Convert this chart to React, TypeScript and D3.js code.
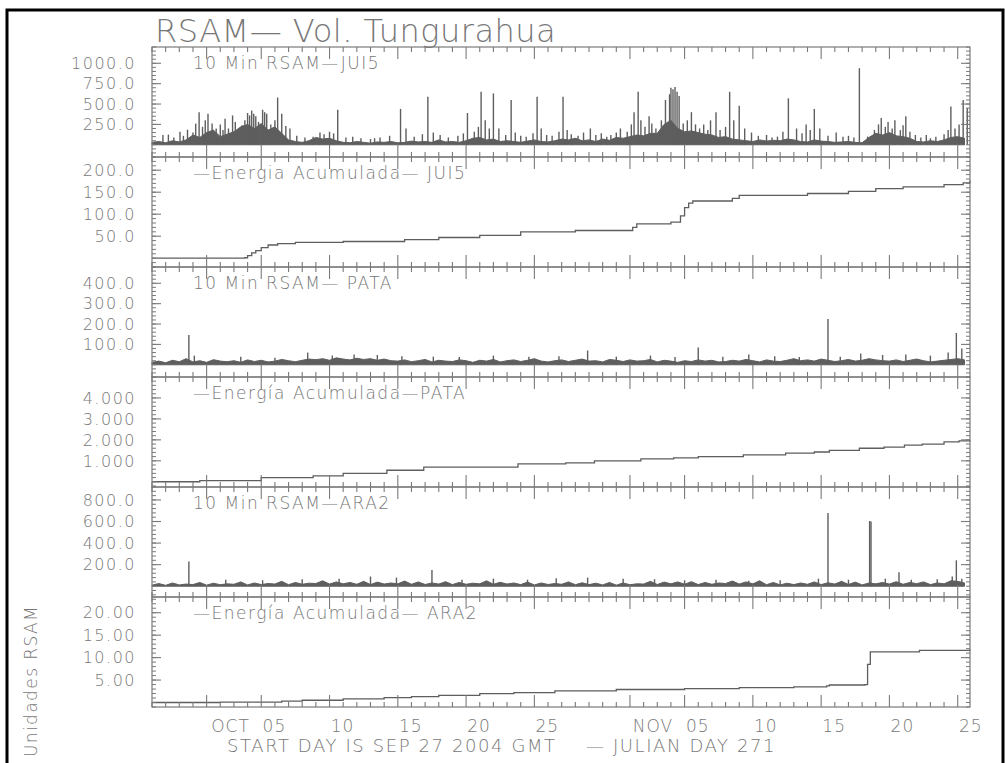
import React from 'react';
import * as d3 from 'd3';

// ---- data (day offsets from SEP 27 2004 00:00 GMT) ----
const startDay = Date.UTC(2004, 8, 27);
const spanDays = 59.9;

// 10 min RSAM JUI5, background level every half day
const jui5Base = [
  30, 40, 25, 50, 35, 60,
  120, 90, 150, 180, 100, 130, 160, 220, 250, 200, 260, 180, 220, 140,
  60, 40, 30, 50,
  90, 70, 80, 50,
  30, 25, 40, 30, 20, 35, 30, 40, 25, 30, 45, 35,
  40, 30, 60, 35, 40, 30, 50, 80, 90, 60, 70, 40,
  50, 40, 30, 45, 60, 40, 35, 50, 70, 60, 80, 50,
  60, 40, 70, 55, 90, 80, 100, 120, 110, 140,
  140, 250, 300, 200, 160, 170, 150, 130,
  120, 90, 100, 70, 60, 50, 40, 60, 45, 55,
  50, 70, 60, 40, 35, 60, 45, 40, 30, 35, 40, 30,
  25, 90, 140, 120, 150, 110, 100, 80,
  40, 35, 50, 40, 60, 90, 100, 80,
];
// [day, rsam] peaks
const jui5Spikes = [
  [0.8, 120], [1.2, 125], [1.6, 90], [2.05, 160], [2.3, 110], [2.6, 185], [3.0, 150], [3.2, 260],
  [3.45, 400], [3.7, 220], [3.9, 300], [4.1, 380], [4.4, 260], [4.7, 200], [5.0, 250], [5.2, 180],
  [5.35, 320], [5.6, 200], [5.9, 360], [6.1, 280], [6.3, 180], [6.6, 240], [6.8, 300], [7.0, 390],
  [7.15, 360], [7.3, 420], [7.45, 380], [7.6, 350], [7.8, 280], [8.1, 430], [8.25, 400], [8.4, 380],
  [8.7, 250], [9.0, 300], [9.2, 580], [9.5, 380], [9.8, 230], [10.1, 200], [10.6, 110], [11.2, 90],
  [11.8, 100], [12.3, 150], [12.6, 130], [13.0, 160], [13.3, 140], [13.6, 430], [14.2, 90], [14.7, 100],
  [15.3, 80], [16.0, 70], [16.3, 80], [16.7, 90], [17.4, 110], [18.2, 440], [18.6, 200], [19.2, 100],
  [19.8, 130], [20.2, 590], [20.6, 150], [21.1, 120], [21.7, 90], [22.4, 110], [22.8, 140], [23.1, 390],
  [23.6, 160], [23.9, 220], [24.1, 650], [24.4, 300], [24.7, 200], [25.0, 630], [25.4, 200], [25.9, 120],
  [26.3, 550], [26.6, 150], [27.0, 110], [27.4, 100], [27.9, 140], [28.2, 590], [28.5, 200], [28.9, 120],
  [29.3, 110], [29.8, 160], [30.1, 590], [30.4, 180], [30.7, 130], [31.2, 110], [31.6, 150], [32.1, 200],
  [32.5, 120], [32.9, 140], [33.3, 100], [33.6, 120], [34.0, 150], [34.3, 200], [34.8, 160], [35.1, 250],
  [35.3, 400], [35.6, 650], [35.8, 300], [36.1, 220], [36.4, 350], [36.6, 260], [36.9, 200], [37.3, 300],
  [37.6, 550], [37.9, 620], [38.0, 700], [38.15, 680], [38.3, 710], [38.45, 650], [38.6, 600], [38.9, 260],
  [39.2, 300], [39.5, 400], [39.8, 250], [40.1, 200], [40.4, 250], [40.7, 180], [40.9, 300], [41.3, 400],
  [41.6, 180], [42.0, 220], [42.3, 650], [42.6, 300], [43.0, 480], [43.4, 200], [43.9, 150], [44.4, 110],
  [45.0, 120], [45.4, 90], [45.8, 100], [46.2, 160], [46.6, 570], [47.2, 200], [47.6, 140], [47.9, 250],
  [48.2, 180], [48.5, 440], [48.9, 200], [49.5, 110], [50.1, 150], [50.6, 100], [51.0, 110], [51.4, 90],
  [51.8, 940], [52.4, 100], [52.9, 180], [53.2, 250], [53.4, 330], [53.7, 220], [53.9, 280], [54.2, 200],
  [54.4, 300], [54.8, 180], [55.0, 240], [55.2, 350], [55.5, 160], [55.9, 120], [56.3, 90], [56.7, 120],
  [57.0, 80], [57.4, 100], [58.0, 130], [58.3, 180], [58.5, 470], [58.8, 200], [59.1, 250], [59.4, 550],
  [59.7, 450],
];
// cumulative energy JUI5 [day, value]
const jui5Energy = [
  [0, 0], [6.8, 1], [7.0, 6], [7.3, 12], [7.6, 17], [8.0, 24], [8.5, 30], [9.2, 33], [10.5, 36],
  [14, 38], [18.5, 42], [21, 47], [24, 52], [27, 60], [31, 63], [35.2, 70], [35.5, 78], [38, 82],
  [38.7, 96], [39, 115], [39.3, 125], [39.6, 130], [42.5, 136], [43, 143], [48, 147], [51, 152],
  [53, 158], [55, 162], [58, 167], [59.4, 171], [59.9, 176],
];

const pataBase = [
  12, 18, 10, 22, 15, 30, 14, 20, 12, 25, 18, 15,
  20, 12, 24, 16, 22, 14, 18, 26, 20, 15, 22, 28,
  25, 30, 22, 34, 28, 24, 32, 26, 30, 22, 28, 20,
  18, 24, 15, 20, 26, 14, 22, 18, 16, 24, 20, 12,
  22, 18, 26, 14, 20, 24, 16, 22, 30, 18, 14, 20,
  24, 16, 22, 28, 18, 20, 14, 26, 22, 16, 24, 18,
  20, 26, 14, 22, 18, 12, 20, 16, 24, 18, 22, 14,
  16, 22, 18, 26, 20, 14, 24, 18, 16, 22, 30, 20,
  24, 18, 28, 22, 16, 20, 26, 18, 22, 30, 24, 20,
  18, 24, 16, 22, 28, 20, 14, 18, 22, 26, 30, 24,
];
const pataSpikes = [
  [2.7, 146], [3.1, 45], [6.5, 40], [9.0, 35], [11.4, 60], [13.2, 45], [14.8, 50], [16.5, 48],
  [18.3, 42], [20.6, 40], [22.5, 38], [25.0, 45], [27.6, 40], [29.8, 42], [31.9, 70], [34.0, 40],
  [36.5, 45], [38.3, 38], [40.0, 85], [41.8, 40], [43.7, 50], [45.6, 42], [47.4, 38], [49.5, 225],
  [50.4, 40], [51.9, 55], [53.5, 48], [55.2, 50], [57.0, 45], [58.3, 60], [58.9, 156], [59.3, 80],
];
const pataEnergy = [
  [0, 0], [3.5, 0.05], [8, 0.2], [11.8, 0.28], [14, 0.4], [17.2, 0.55], [19.9, 0.7], [26.8, 0.85],
  [30.3, 0.9], [32.4, 1.0], [35.8, 1.09], [38.2, 1.14], [40, 1.2], [43.3, 1.28], [46.4, 1.37],
  [48.5, 1.42], [49.6, 1.5], [51.8, 1.6], [53.6, 1.65], [55.1, 1.75], [56.4, 1.8], [58, 1.9],
  [59.1, 1.95], [59.9, 2.0],
];

const ara2Base = [
  10, 25, 8, 30, 12, 20, 15, 35, 10, 28, 14, 22,
  18, 40, 12, 30, 15, 25, 20, 45, 14, 35, 18, 28,
  25, 50, 20, 40, 22, 35, 18, 45, 15, 38, 20, 30,
  22, 48, 18, 40, 16, 30, 20, 42, 15, 35, 18, 28,
  22, 50, 18, 36, 20, 30, 15, 38, 12, 30, 16, 25,
  18, 40, 14, 32, 15, 28, 12, 35, 10, 30, 14, 22,
  20, 45, 16, 38, 22, 40, 18, 42, 15, 35, 18, 30,
  25, 48, 20, 40, 22, 50, 14, 35, 12, 28, 15, 30,
  18, 40, 15, 32, 20, 45, 16, 38, 12, 30, 22, 35,
  20, 42, 18, 35, 24, 40, 15, 30, 22, 50, 45, 30,
];
const ara2Spikes = [
  [2.7, 230], [5.4, 60], [8.1, 55], [11.0, 65], [13.7, 70], [16.0, 90], [17.9, 80], [20.5, 150],
  [22.7, 60], [25.0, 70], [27.5, 60], [29.6, 75], [31.9, 80], [34.5, 70], [36.8, 65], [39.0, 55],
  [41.3, 60], [43.7, 50], [46.0, 55], [48.8, 70], [49.5, 680], [51.0, 60], [52.55, 605], [52.65, 600],
  [53.7, 70], [54.7, 130], [55.6, 60], [57.5, 65], [58.6, 90], [58.9, 240], [59.3, 70],
];
const ara2Energy = [
  [0, 0], [5, 0.1], [9.5, 0.3], [11, 0.5], [14, 0.8], [17, 1.1], [19, 1.3], [21, 1.6], [24, 2.0],
  [26.5, 2.2], [29.5, 2.6], [34, 2.9], [39, 3.1], [43, 3.3], [47, 3.5], [49.4, 3.7], [49.6, 3.9],
  [52.2, 4.0], [52.4, 8.5], [52.6, 11.3], [56.2, 11.6], [59.9, 11.8],
];

const panelTitles = [
  '10 Min RSAM\u2014JUI5',
  '\u2014Energia Acumulada\u2014 JUI5',
  '10 Min RSAM\u2014 PATA',
  '\u2014Energ\u00eda Acumulada\u2014PATA',
  '10 Min RSAM\u2014ARA2',
  '\u2014Energ\u00eda Acumulada\u2014 ARA2',
];
const yDomains = [[-150, 1200], [-20, 230], [-60, 480], [-0.25, 5.0], [-100, 920], [-1, 23.5]];
const yTickValues = [
  [250, 500, 750, 1000],
  [50, 100, 150, 200],
  [100, 200, 300, 400],
  [1, 2, 3, 4],
  [200, 400, 600, 800],
  [5, 10, 15, 20],
];
const yMinorSteps = [50, 10, 20, 0.2, 40, 1];
const yFormats = ['.1f', '.1f', '.1f', '.3f', '.1f', '.2f'];

// ---- layout ----
const W = 1005;
const H = 763;
const margin = { left: 152, right: 35, top: 47 };
const panelH = 110;
const FONT = '"DejaVu Sans", sans-serif';
const TXT = '#777';
const AX = '#7a7a7a';
const TRACE = '#5e5e5e';
const LIGHT = 200;

const toDate = (d: number) => new Date(startDay + d * 864e5);
const x = d3
  .scaleUtc()
  .domain([toDate(0), toDate(spanDays)])
  .range([margin.left, W - margin.right]);

const dayTicks = d3.utcDay.range(toDate(0), toDate(spanDays));
const isMajor = (d: Date) => [1, 5, 10, 15, 20, 25].includes(d.getUTCDate());
const labelDays = dayTicks.filter((d) => d.getUTCDate() % 5 === 0 && d.getUTCDate() <= 25);

const panels = [
  { kind: 'rsam', base: jui5Base, spikes: jui5Spikes },
  { kind: 'energy', series: jui5Energy },
  { kind: 'rsam', base: pataBase, spikes: pataSpikes },
  { kind: 'energy', series: pataEnergy },
  { kind: 'rsam', base: ara2Base, spikes: ara2Spikes },
  { kind: 'energy', series: ara2Energy },
];

function Panel({ idx }: { idx: number }) {
  const p: any = panels[idx];
  const top = margin.top + idx * panelH;
  const bottom = top + panelH;
  const left = margin.left;
  const right = W - margin.right;
  const [d0, d1] = yDomains[idx];
  const y = d3.scaleLinear().domain([d0, d1]).range([bottom, top]);
  const fmt = d3.format(yFormats[idx]);
  const step = yMinorSteps[idx];
  const minors = d3.range(Math.ceil(d0 / step), Math.floor(d1 / step) + 1).map((k) => k * step);

  let marks: React.ReactNode = null;
  if (p.kind === 'rsam') {
    const area = d3
      .area<number>()
      .x((_, i) => x(toDate(i * 0.5)))
      .y0(y(0))
      .y1((d) => y(d));
    marks = (
      <g>
        <path d={area(p.base) || ''} fill={TRACE} stroke={TRACE} strokeWidth={1} />
        {p.spikes.map((s: number[], i: number) => (
          <line key={i} x1={x(toDate(s[0]))} x2={x(toDate(s[0]))} y1={y(0)} y2={y(s[1])}
            stroke={TRACE} strokeWidth={1.4} />
        ))}
      </g>
    );
  } else {
    const line = d3
      .line<number[]>()
      .x((d) => x(toDate(d[0])))
      .y((d) => y(d[1]))
      .curve(d3.curveStepAfter);
    marks = <path d={line(p.series) || ''} fill="none" stroke={TRACE} strokeWidth={1.3} />;
  }

  return (
    <g>
      {marks}
      <rect x={left} y={top} width={right - left} height={panelH} fill="none" stroke={AX} strokeWidth={1.2} />
      {dayTicks.map((d, i) => {
        const xx = x(d);
        const len = isMajor(d) ? 12 : 5;
        return (
          <g key={i} stroke={AX} strokeWidth={1.1}>
            <line x1={xx} x2={xx} y1={top} y2={top + len} />
            <line x1={xx} x2={xx} y1={bottom} y2={bottom - len} />
          </g>
        );
      })}
      {minors.map((v, i) => (
        <g key={i} stroke={AX} strokeWidth={1}>
          <line x1={left} x2={left + 4} y1={y(v)} y2={y(v)} />
          <line x1={right} x2={right - 4} y1={y(v)} y2={y(v)} />
        </g>
      ))}
      {yTickValues[idx].map((v, i) => (
        <g key={i}>
          <line x1={left} x2={left + 9} y1={y(v)} y2={y(v)} stroke={AX} strokeWidth={1.1} />
          <line x1={right} x2={right - 9} y1={y(v)} y2={y(v)} stroke={AX} strokeWidth={1.1} />
          <text x={left - 16} y={y(v)} dy="0.36em" textAnchor="end" fontSize={16} fill={TXT}
            fontFamily={FONT} fontWeight={LIGHT} letterSpacing={1.5}>{fmt(v)}</text>
        </g>
      ))}
      <text x={193} y={top + 22} fontSize={17} fill={TXT} fontFamily={FONT} fontWeight={LIGHT}
        letterSpacing={1.5}>{panelTitles[idx]}</text>
    </g>
  );
}

export default function App() {
  const bottom = margin.top + 6 * panelH;
  const monthFmt = d3.utcFormat('%b');
  const dayFmt = d3.utcFormat('%d');
  return (
    <div style={{ position: 'absolute', left: 0, top: 0 }}>
      <svg width={W} height={H} style={{ display: 'block', background: '#fff' }}>
        <rect x={7} y={10} width={996} height={760} fill="none" stroke="#000" strokeWidth={3} />
        <text x={155} y={42} fontSize={32} fill={TXT} fontFamily={FONT} fontWeight={LIGHT} letterSpacing={0.5}>
          RSAM{'\u2014'} Vol. Tungurahua
        </text>
        {panels.map((_, i) => <Panel key={i} idx={i} />)}
        {labelDays.map((d, i) => {
          const cx = x(d) + 13;
          const isFifth = d.getUTCDate() === 5;
          const label = isFifth ? `${monthFmt(d).toUpperCase()}  ${dayFmt(d)}` : dayFmt(d);
          return (
            <text key={i} x={isFifth ? cx + 12 : cx} y={bottom + 25} textAnchor={isFifth ? 'end' : 'middle'}
              fontSize={17} fill={TXT} fontFamily={FONT} fontWeight={LIGHT} letterSpacing={1}
              style={{ whiteSpace: 'pre' }}>{label}</text>
          );
        })}
        <text x={227} y={bottom + 45} fontSize={18} fill={TXT} fontFamily={FONT} fontWeight={LIGHT}
          letterSpacing={1.6} style={{ whiteSpace: 'pre' }}>
          {'START DAY IS SEP 27 2004 GMT    \u2014 JULIAN DAY 271'}
        </text>
        <text transform={`translate(37, 681) rotate(-90)`} textAnchor="middle" fontSize={17} fill={TXT}
          fontFamily={FONT} fontWeight={LIGHT} letterSpacing={1.4}>Unidades RSAM</text>
      </svg>
    </div>
  );
}
